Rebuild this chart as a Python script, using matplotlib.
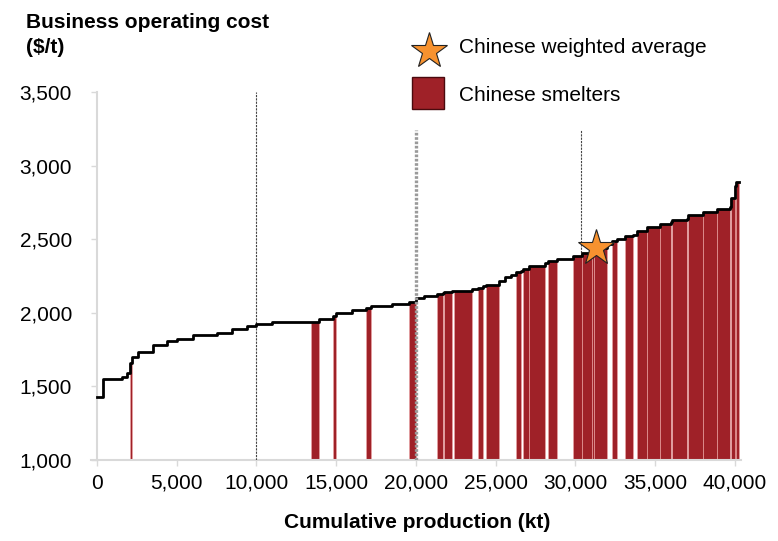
import numpy as np
import matplotlib
matplotlib.use('Agg')
import matplotlib.pyplot as plt
from matplotlib.patches import Rectangle
from matplotlib.lines import Line2D

plt.rcParams['font.family'] = ['Liberation Sans', 'DejaVu Sans']

# ---- data ----
seg_end_kt = [400, 1600, 1900, 2070, 2200, 2600, 3500, 4400, 5000, 6000, 7500,
              8500, 9400, 10000, 11000, 13400, 13900, 14800, 15000, 16000, 16900,
              17200, 18500, 19600, 20000, 20500, 21300, 21700, 21800, 22300, 22400,
              23500, 23900, 24200, 24400, 25200, 25600, 26000, 26300, 26600, 26700,
              27100, 28100, 28300, 28850, 29850, 30400, 31050, 31150, 32000, 32300,
              32600, 33100, 33600, 33850, 34500, 35300, 36000, 36100, 37000, 37100,
              38000, 38900, 39700, 39800, 40000, 40100, 40300]
seg_cost = [1425, 1550, 1565, 1590, 1660, 1700, 1735, 1780, 1810, 1820, 1850,
            1865, 1890, 1910, 1925, 1935, 1940, 1960, 1975, 2000, 2020,
            2030, 2045, 2060, 2075, 2100, 2115, 2130, 2135, 2140, 2145,
            2150, 2160, 2170, 2180, 2190, 2215, 2240, 2260, 2280, 2285,
            2300, 2320, 2340, 2355, 2365, 2385, 2405, 2420, 2440, 2470,
            2485, 2500, 2520, 2530, 2555, 2585, 2605, 2615, 2630, 2640,
            2665, 2685, 2705, 2720, 2780, 2860, 2890]
seg_chinese = [0, 0, 0, 0, 1, 0, 0, 0, 0, 0, 0,
               0, 0, 0, 0, 0, 1, 0, 1, 0, 0,
               1, 0, 0, 1, 0, 0, 1, 0, 1, 0,
               1, 0, 1, 0, 1, 0, 0, 0, 1, 0,
               1, 1, 0, 1, 0, 1, 1, 1, 1, 0,
               1, 0, 1, 0, 1, 1, 1, 0, 1, 0,
               1, 1, 1, 0, 1, 1, 1]
avg_kt = 31300
avg_cost = 2440
ref_lines_kt = [10000, 20000, 30350]
y_ticks = [1000, 1500, 2000, 2500, 3000, 3500]
x_ticks = [0, 5000, 10000, 15000, 20000, 25000, 30000, 35000, 40000]

ends = np.array(seg_end_kt, dtype=float)
starts = np.concatenate([[0.0], ends[:-1]])
widths = ends - starts
cost = np.array(seg_cost, dtype=float)
cn = np.array(seg_chinese, dtype=bool)

BAR = '#9F2128'

fig = plt.figure(figsize=(7.78, 5.41), dpi=100)
ax = fig.add_axes([91.4 / 778, 1 - 460 / 541, (741 - 91.4) / 778, 368 / 541])
ax.set_xlim(-350, 40400)
ax.set_ylim(1000, 3500)

# Chinese smelters bars
ax.bar(starts[cn], cost[cn] - 1000, width=widths[cn], bottom=1000, align='edge',
       color=BAR, edgecolor='#F0A8A8', linewidth=0.4, zorder=2)

# cost curve
xs = np.concatenate([starts, [ends[-1]]])
ys = np.concatenate([cost, [cost[-1]]])
ax.step(xs, ys, where='post', color='black', lw=2, zorder=4)

# reference vertical lines
ax.vlines(ref_lines_kt[0], 1000, 3500, colors='#444444', linestyles=(0, (2, 1)), lw=0.8, zorder=3)
ax.vlines(ref_lines_kt[1], 1000, 3240, colors='#9a9a9a', linestyles=(0, (0.8, 0.5)), lw=2.4, zorder=5)
idx = np.searchsorted(ends, ref_lines_kt[2])
ax.vlines(ref_lines_kt[2], cost[idx], 3240, colors='#444444', linestyles=(0, (2, 1)), lw=0.8, zorder=3)

# weighted average star
ax.plot([avg_kt], [avg_cost], marker='*', ms=27, mfc='#F7922F', mec='#222222',
        mew=0.8, zorder=6, clip_on=False, linestyle='none')

# axes styling
for s in ['top', 'right']:
    ax.spines[s].set_visible(False)
for s in ['left', 'bottom']:
    ax.spines[s].set_color('#D9D9D9')
    ax.spines[s].set_linewidth(1.5)
ax.spines['left'].set_position(('data', 0))
ax.spines['left'].set_zorder(1)
ax.set_yticks(y_ticks)
ax.set_yticklabels([f'{v:,}' for v in y_ticks])
ax.set_xticks(x_ticks)
ax.set_xticklabels([f'{v:,}' for v in x_ticks])
ax.tick_params(axis='y', length=4, color='#D9D9D9', width=1, labelsize=15, pad=14)
ax.tick_params(axis='x', length=4, color='#D9D9D9', width=1, labelsize=15, pad=6)

# titles
fig.text(26 / 778, 1 - 28.5 / 541, 'Business operating cost', ha='left', va='baseline',
         fontweight='bold', fontsize=15)
fig.text(26 / 778, 1 - 53 / 541, '($/t)', ha='left', va='baseline',
         fontweight='bold', fontsize=15)
fig.text(417 / 778, 1 - 522 / 541, 'Cumulative production (kt)', ha='center', va='center',
         fontweight='bold', fontsize=15)

# legend
fig.add_artist(Line2D([429 / 778], [1 - 51 / 541], marker='*', ms=27, mfc='#F7922F',
                      mec='#222222', mew=0.8, linestyle='none', transform=fig.transFigure))
fig.text(459 / 778, 1 - 53 / 541, 'Chinese weighted average', ha='left', va='baseline', fontsize=15)
fig.add_artist(Rectangle((412 / 778, 1 - 109 / 541), 32 / 778, 32 / 541, transform=fig.transFigure,
                         facecolor=BAR, edgecolor='#4a0a0e', lw=1))
fig.text(459 / 778, 1 - 101 / 541, 'Chinese smelters', ha='left', va='baseline', fontsize=15)

fig.savefig('out.png', dpi=100)
